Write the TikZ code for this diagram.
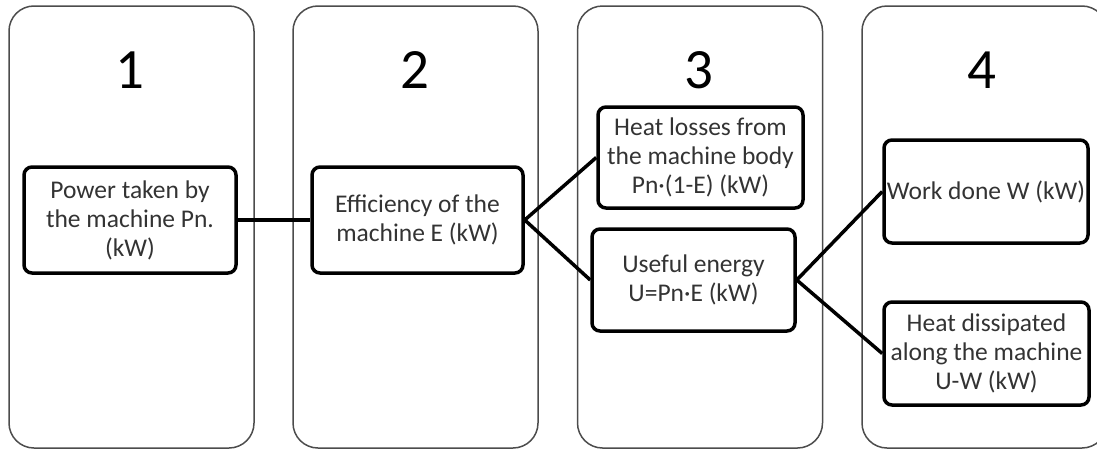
\documentclass[tikz,border=0pt]{standalone}
\usepackage{fontspec}
\setmainfont{Carlito}
\tikzset{
  panel/.style={draw=black!70, line width=1.5pt, rounded corners=25pt,
    minimum width=245pt, minimum height=442pt},
  stage/.style={font=\fontsize{57}{60}\selectfont},
  box/.style={draw, line width=3.5pt, rounded corners=8pt, align=center,
    text=black!80, inner sep=1pt, font=\fontsize{25.5}{29}\selectfont},
}
\begin{document}
\begin{tikzpicture}[x=1pt,y=-1pt]
  \useasboundingbox (0,0) rectangle (1097,450);
  \draw
    (131.5,227) node[panel] (p1) {}
    (415.5,227) node[panel] (p2) {}
    (700,227) node[panel] (p3) {}
    (984.5,227) node[panel] (p4) {}
    (130,70) node[stage] (s1) {1}
    (415,70) node[stage] (s2) {2}
    (699,70) node[stage] (s3) {3}
    (982,70) node[stage] (s4) {4}
    (130,220) node[box, minimum width=212pt, minimum height=106pt] (power)
      {Power taken by\\the machine Pn.\\(kW)}
    (417.5,220) node[box, minimum width=211pt, minimum height=106pt] (eff)
      {Efficiency of the\\machine E (kW)}
    (700.5,157.5) node[box, minimum width=205pt, minimum height=101pt] (loss)
      {Heat losses from\\the machine body\\Pn·(1-E) (kW)}
    (693.5,280) node[box, minimum width=203pt, minimum height=102pt] (useful)
      {Useful energy\\U=Pn·E (kW)}
    (986,191.5) node[box, minimum width=204pt, minimum height=103pt] (work)
      {Work done W (kW)}
    (986.5,353.5) node[box, minimum width=205pt, minimum height=103pt] (diss)
      {Heat dissipated\\along the machine\\U-W (kW)};
  \begin{scope}[line width=3.5pt]
    \draw (power) to (eff);
    \draw (eff.east) to (loss.west);
    \draw (eff.east) to (useful.west);
    \draw (useful.east) to (work.west);
    \draw (useful.east) to (diss.west);
  \end{scope}
\end{tikzpicture}
\end{document}
